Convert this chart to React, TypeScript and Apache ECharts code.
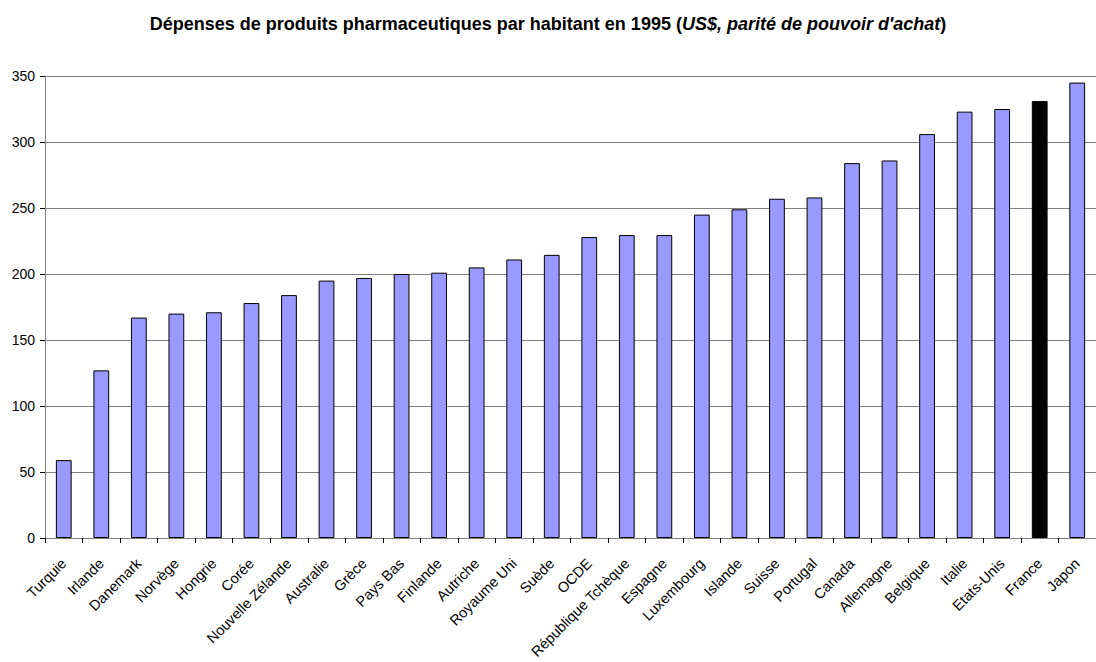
import React, { useEffect, useRef } from "react";
import * as echarts from "echarts";

const categories = [
  "Turquie", "Irlande", "Danemark", "Norvège", "Hongrie", "Corée", "Nouvelle Zélande",
  "Australie", "Grèce", "Pays Bas", "Finlande", "Autriche", "Royaume Uni", "Suède",
  "OCDE", "République Tchèque", "Espagne", "Luxembourg", "Islande", "Suisse", "Portugal",
  "Canada", "Allemagne", "Belgique", "Italie", "Etats-Unis", "France", "Japon",
];
const values = [
  59, 127, 167, 170, 171, 178, 184, 195, 197, 200, 201, 205, 211, 214.5,
  228, 229.5, 229.5, 245, 249, 257, 258, 284, 286, 306, 323, 325, 331, 345,
];
const highlighted = ["France"];

const FONT = "Liberation Sans, Arial, sans-serif";

export default function App() {
  const ref = useRef<HTMLDivElement>(null);
  useEffect(() => {
    if (!ref.current) return;
    const chart = echarts.init(ref.current, undefined, { renderer: "svg" });
    chart.setOption({
      animation: false,
      backgroundColor: "#ffffff",
      textStyle: { fontFamily: FONT },
      title: {
        text: "{b|Dépenses de produits pharmaceutiques par habitant en 1995 (}{i|US$, parité de pouvoir d'achat}{b|)}",
        left: "center",
        top: 10,
        textStyle: {
          rich: {
            b: { fontSize: 18, fontWeight: "bold", color: "#000", fontFamily: FONT },
            i: { fontSize: 18, fontWeight: "bold", fontStyle: "italic", color: "#000", fontFamily: FONT },
          },
        },
      },
      grid: { left: 45, top: 76, width: 1053, height: 462, containLabel: false },
      xAxis: {
        type: "category",
        data: categories,
        axisLine: { lineStyle: { color: "#808080", width: 1 } },
        axisTick: { show: true, alignWithLabel: false, length: 5, inside: false, lineStyle: { color: "#000" } },
        axisLabel: {
          rotate: 45,
          interval: 0,
          color: "#000",
          fontSize: 14.5,
          margin: 23,
          fontFamily: FONT,
        },
      },
      yAxis: {
        type: "value",
        min: 0,
        max: 350,
        interval: 50,
        axisLine: { show: true, lineStyle: { color: "#808080", width: 1 } },
        axisTick: { show: true, length: 5, lineStyle: { color: "#000" } },
        axisLabel: { color: "#000", fontSize: 14, margin: 10, fontFamily: FONT },
        splitLine: { show: true, lineStyle: { color: "#808080", width: 1 } },
      },
      series: [
        {
          type: "bar",
          barCategoryGap: "58%",
          data: values.map((v, i) => ({
            value: v,
            itemStyle: {
              color: highlighted.includes(categories[i]) ? "#000000" : "#9999ff",
              borderColor: "#000",
              borderWidth: 1,
            },
          })),
        },
      ],
    });
    return () => chart.dispose();
  }, []);
  return (
    <div
      ref={ref}
      style={{ position: "absolute", left: 0, top: 0, width: 1096, height: 662 }}
    />
  );
}
